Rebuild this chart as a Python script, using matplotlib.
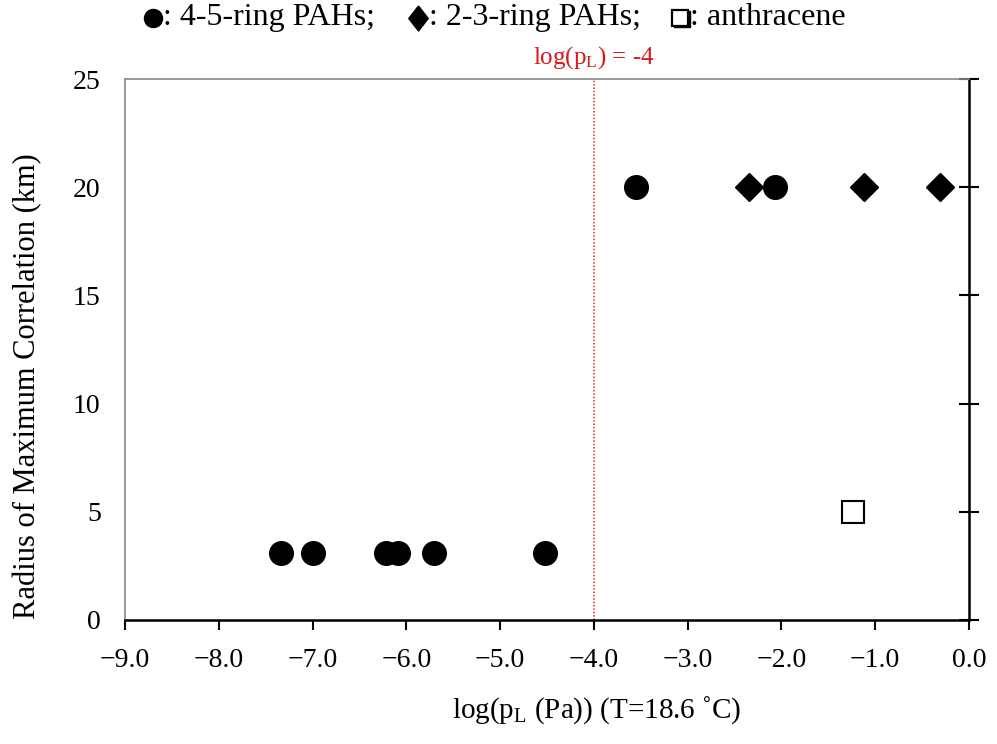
import matplotlib
matplotlib.use("Agg")
import matplotlib.pyplot as plt
from matplotlib.lines import Line2D
from matplotlib.ticker import FixedLocator

plt.rcParams['font.family'] = ['Liberation Serif', 'DejaVu Sans']
plt.rcParams['mathtext.fontset'] = 'custom'
plt.rcParams['mathtext.rm'] = 'Liberation Serif'
plt.rcParams['mathtext.it'] = 'Liberation Serif:italic'

# Log vapour pressure vs radius of maximum correlation
ring45_x = [-7.34, -7.00, -6.22, -6.09, -5.71, -4.52, -3.55, -2.07]
ring45_y = [3.1, 3.1, 3.1, 3.1, 3.1, 3.1, 20, 20]
ring23_x = [-2.35, -1.12, -0.31]
ring23_y = [20, 20, 20]
anthracene_x = [-1.24]
anthracene_y = [5]
threshold = -4

x_ticks = [-9, -8, -7, -6, -5, -4, -3, -2, -1, 0]
y_ticks = [0, 5, 10, 15, 20, 25]

TICK_FS = 20

fig = plt.figure(figsize=(9.97, 7.44), dpi=100)
ax = fig.add_axes([0.1254, 0.1667, 0.8465, 0.7271])

ax.plot(ring45_x, ring45_y, 'o', color='black', ms=17, ls='none')
ax.plot(ring23_x, ring23_y, 'D', color='black', ms=14, ls='none')
ax.plot(anthracene_x, anthracene_y, 's', mfc='white', mec='black', mew=1.5, ms=16, ls='none')

ax.axvline(threshold, color='#e8202a', ls=(0, (1, 1.2)), lw=1.1)
ax.text(threshold, 25.35, r'log(p$_\mathrm{L}$) = -4', color='#d7191c',
        ha='center', va='bottom', fontsize=18)

ax.set_xlim(-9, 0)
ax.set_ylim(0, 25)
ax.xaxis.set_major_locator(FixedLocator(x_ticks))
ax.yaxis.set_major_locator(FixedLocator(y_ticks))
ax.set_xticklabels([f'{v:.1f}'.replace('-', '\u2212') for v in x_ticks])
ax.set_yticklabels([f'{v}' for v in y_ticks])

for side in ('left', 'top'):
    ax.spines[side].set_color('#888888')
    ax.spines[side].set_linewidth(1.2)
for side in ('bottom', 'right'):
    ax.spines[side].set_color('black')
    ax.spines[side].set_linewidth(1.8)

ax.tick_params(axis='x', direction='out', length=7, width=1.5, labelsize=TICK_FS, pad=13)
ax.tick_params(axis='y', left=False, right=True, labelleft=True, labelright=False,
               direction='inout', length=14, width=1.5, labelsize=TICK_FS, pad=10.5)

ax.set_xlabel(r'log(p$_\mathrm{L}$ (Pa)) (T=18.6 ˚C)', fontsize=21)
ax.xaxis.set_label_coords(0.559, -0.138)
ax.set_ylabel('Radius of Maximum Correlation (km)', fontsize=22)
ax.yaxis.set_label_coords(-0.098, 0.4325)

# Symbol key along the top of the figure
KEY_FS = 23
key_y = 0.976
suit_diamond = [(0, 1), (0.78, 0), (0, -1), (-0.78, 0), (0, 1)]
fig.add_artist(Line2D([153 / 997], [key_y], marker='o', color='black', ms=13,
                      ls='none', transform=fig.transFigure))
fig.text(163 / 997, key_y, ': 4-5-ring PAHs;', ha='left', va='center', fontsize=KEY_FS)
fig.add_artist(Line2D([418 / 997], [key_y], marker=suit_diamond, color='black', ms=18,
                      ls='none', transform=fig.transFigure))
fig.text(429 / 997, key_y, ': 2-3-ring PAHs;', ha='left', va='center', fontsize=KEY_FS)
# shadowed box symbol
fig.add_artist(Line2D([681.5 / 997], [key_y - 1.5 / 744], marker='s', color='black',
                      ms=12, ls='none', transform=fig.transFigure))
fig.add_artist(Line2D([680 / 997], [key_y], marker='s', mfc='white', mec='black',
                      mew=1.6, ms=12, ls='none', transform=fig.transFigure))
fig.text(690 / 997, key_y, ': anthracene', ha='left', va='center', fontsize=KEY_FS)

fig.savefig('out.png', dpi=100)
